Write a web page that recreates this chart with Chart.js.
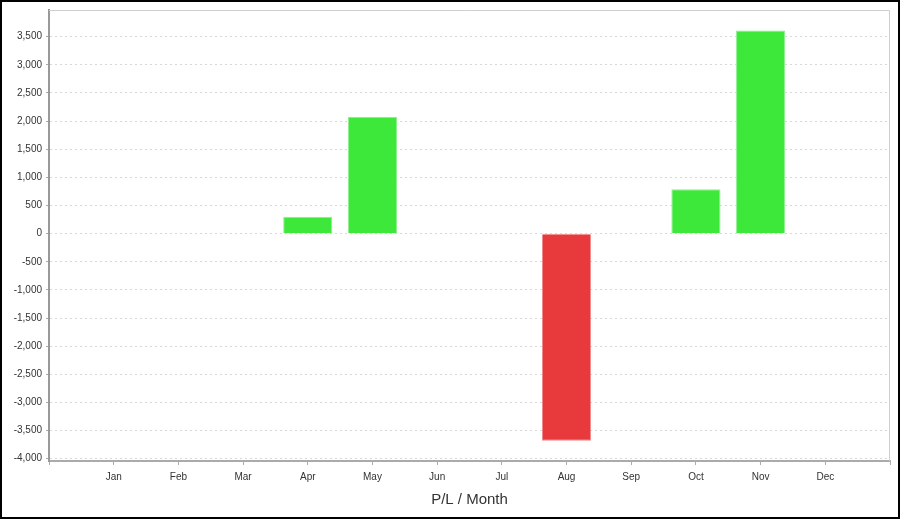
<!DOCTYPE html>
<html>
<head>
<meta charset="utf-8">
<script src="https://cdn.jsdelivr.net/npm/chart.js@4"></script>
<style>
  html, body { margin: 0; padding: 0; background: #fff; }
  #wrap { position: absolute; left: 0; top: 0; width: 900px; height: 519px; }
  #frame { position: absolute; left: 0; top: 0; width: 896px; height: 515px; border: 2px solid #000; pointer-events: none; }
  canvas { position: absolute; left: 0; top: 0; }
</style>
</head>
<body>
<div id="wrap">
  <canvas id="c" width="900" height="519"></canvas>
  <div id="frame"></div>
</div>
<script>
const months = ['Jan','Feb','Mar','Apr','May','Jun','Jul','Aug','Sep','Oct','Nov','Dec'];
const plValues = [0, 0, 0, 300, 2080, 0, 0, -3680, 0, 790, 3610, 0];
const yTickValues = [-4000,-3500,-3000,-2500,-2000,-1500,-1000,-500,0,500,1000,1500,2000,2500,3000,3500];
const xTitle = 'P/L / Month';

const GREEN = '#3ee83b', GREEN_EDGE = '#8ef08c';
const RED = '#e8393d', RED_EDGE = '#f08a8c';

// pad with empty slots either side so the months sit inset like the reference
const labels = [''].concat(months, ['']);
const data = [null].concat(plValues.map(v => v === 0 ? null : v), [null]);
const bg = data.map(v => v == null ? GREEN : (v < 0 ? RED : GREEN));
const bd = data.map(v => v == null ? GREEN_EDGE : (v < 0 ? RED_EDGE : GREEN_EDGE));

const framePlugin = {
  id: 'frame',
  beforeDatasetsDraw(chart) {
    const a = chart.chartArea, ctx = chart.ctx;
    ctx.save();
    ctx.strokeStyle = '#cfcfcf';
    ctx.lineWidth = 1;
    ctx.setLineDash([]);
    ctx.beginPath();
    ctx.moveTo(a.left, a.top + 0.5);
    ctx.lineTo(a.right - 0.5, a.top + 0.5);
    ctx.lineTo(a.right - 0.5, a.bottom);
    ctx.stroke();
    ctx.restore();
  }
};

Chart.defaults.font.family = '"Liberation Sans", Arial, sans-serif';
Chart.defaults.color = '#333';

new Chart(document.getElementById('c'), {
  type: 'bar',
  data: {
    labels: labels,
    datasets: [{
      data: data,
      backgroundColor: bg,
      borderColor: bd,
      borderWidth: 1,
      barPercentage: 0.76,
      categoryPercentage: 1.0
    }]
  },
  plugins: [framePlugin],
  options: {
    responsive: false,
    animation: false,
    layout: { padding: { left: 0, top: 8, right: 10, bottom: 0 } },
    plugins: { legend: { display: false }, tooltip: { enabled: false } },
    scales: {
      x: {
        type: 'category',
        offset: false,
        grid: { offset: false, drawOnChartArea: false, drawTicks: true, tickLength: 4, tickColor: '#aaa' },
        border: { display: true, color: '#aaa', width: 2 },
        ticks: { font: { size: 10 }, color: '#333', padding: 6, maxRotation: 0, autoSkip: false },
        title: { display: true, text: xTitle, font: { size: 15 }, color: '#333', padding: 10 },
        afterFit(scale) { scale.height = 58; }
      },
      y: {
        min: -4040,
        max: 3975,
        grid: { color: '#d8d8d8', lineWidth: 1, drawTicks: true, tickLength: 3, tickColor: '#aaa', tickBorderDash: [] },
        border: { display: true, color: '#999', width: 2, dash: [2, 3] },
        ticks: {
          font: { size: 10 }, color: '#333', padding: 4,
          callback: v => v.toLocaleString('en-US')
        },
        afterBuildTicks(scale) { scale.ticks = yTickValues.map(v => ({ value: v })); },
        afterFit(scale) { scale.width = 49; }
      }
    }
  }
});
</script>
</body>
</html>
